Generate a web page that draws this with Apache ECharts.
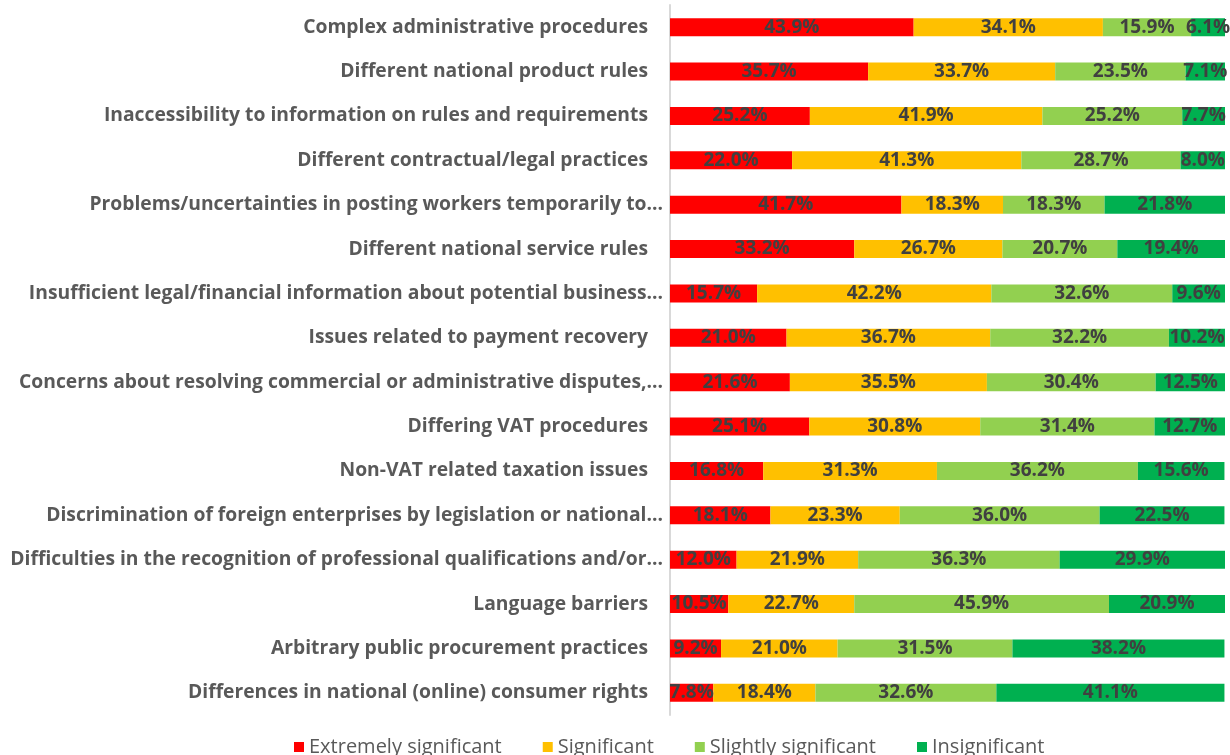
<!DOCTYPE html>
<html>
<head>
<meta charset="utf-8">
<script src="https://cdn.jsdelivr.net/npm/echarts@6/dist/echarts.min.js"></script>
<style>html,body{margin:0;padding:0;background:#fff}#c{width:1230px;height:755px}</style>
</head>
<body>
<div id="c"></div>
<script>
const categories = [
  "Complex administrative procedures",
  "Different national product rules",
  "Inaccessibility to information on rules and requirements",
  "Different contractual/legal practices",
  "Problems/uncertainties in posting workers temporarily to...",
  "Different national service rules",
  "Insufficient legal/financial information about potential business...",
  "Issues related to payment recovery",
  "Concerns about resolving commercial or administrative disputes,...",
  "Differing VAT procedures",
  "Non-VAT related taxation issues",
  "Discrimination of foreign enterprises by legislation or national...",
  "Difficulties in the recognition of professional qualifications and/or...",
  "Language barriers",
  "Arbitrary public procurement practices",
  "Differences in national (online) consumer rights"
];
const seriesNames = ["Extremely significant", "Significant", "Slightly significant", "Insignificant"];
const extremely = [43.9, 35.7, 25.2, 22.0, 41.7, 33.2, 15.7, 21.0, 21.6, 25.1, 16.8, 18.1, 12.0, 10.5, 9.2, 7.8];
const significant = [34.1, 33.7, 41.9, 41.3, 18.3, 26.7, 42.2, 36.7, 35.5, 30.8, 31.3, 23.3, 21.9, 22.7, 21.0, 18.4];
const slightly = [15.9, 23.5, 25.2, 28.7, 18.3, 20.7, 32.6, 32.2, 30.4, 31.4, 36.2, 36.0, 36.3, 45.9, 31.5, 32.6];
const insignificant = [6.1, 7.1, 7.7, 8.0, 21.8, 19.4, 9.6, 10.2, 12.5, 12.7, 15.6, 22.5, 29.9, 20.9, 38.2, 41.1];
const colors = ["#FF0000", "#FFC000", "#92D050", "#00B050"];
const values = [extremely, significant, slightly, insignificant];

const chart = echarts.init(document.getElementById('c'));
chart.setOption({
  animation: false,
  grid: {left: 670, right: 5, top: 5, height: 710, containLabel: false},
  legend: {
    bottom: -7, left: 289, itemWidth: 10, itemHeight: 10, itemGap: 41,
    icon: 'rect',
    textStyle: {color: '#595959', fontSize: 20, fontFamily: 'Open Sans'},
    data: seriesNames
  },
  xAxis: {type: 'value', min: 0, max: 100, show: false},
  yAxis: {
    type: 'category', inverse: true, data: categories,
    axisLine: {show: true, lineStyle: {color: '#D9D9D9', width: 2}},
    axisTick: {show: false},
    axisLabel: {
      margin: 7,
      formatter: v => v.endsWith('...') ? '{a|' + v + '}' : '{b|' + v + '}',
      rich: {
        a: {color: '#595959', fontSize: 19.3, fontWeight: 'bold', fontFamily: 'Open Sans'},
        b: {color: '#595959', fontSize: 19.3, fontWeight: 'bold', fontFamily: 'Open Sans', padding: [0, 15, 0, 0]}
      }
    }
  },
  series: values.map((d, i) => ({
    name: seriesNames[i], type: 'bar', stack: 'all', data: d, barWidth: 18,
    itemStyle: {color: colors[i]},
    label: {
      show: true, position: 'inside', formatter: p => p.value.toFixed(1) + '%',
      color: '#404040', fontSize: 19, fontWeight: 'bold', fontFamily: 'Open Sans'
    }
  }))
});
</script>
</body>
</html>
